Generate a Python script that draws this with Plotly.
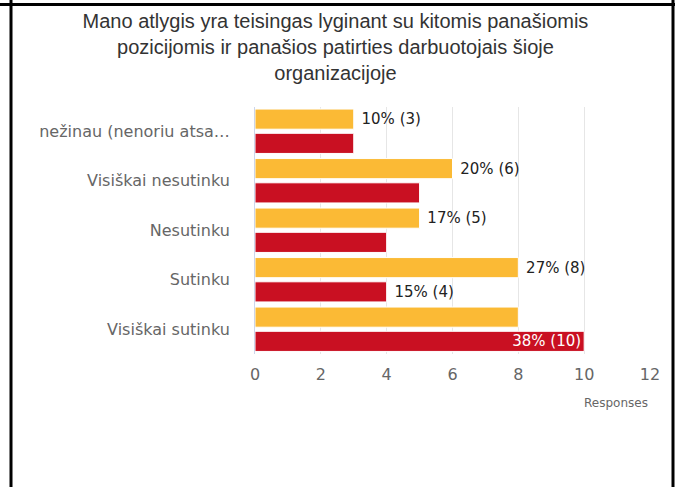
import plotly.graph_objects as go

categories = ["nežinau (nenoriu atsa…", "Visiškai nesutinku", "Nesutinku", "Sutinku", "Visiškai sutinku"]
orange_values = [3, 6, 5, 8, 8]
red_values = [3, 5, 4, 4, 10]
orange_labels = ["10% (3)", "20% (6)", "17% (5)", "27% (8)", ""]
red_labels = ["", "", "", "15% (4)", "38% (10)"]
x_ticks = [0, 2, 4, 6, 8, 10, 12]

title_text = "Mano atlygis yra teisingas lyginant su kitomis panašiomis<br>pozicijomis ir panašios patirties darbuotojais šioje<br>organizacijoje"

W, H = 675, 487
px_l, px_r, px_t, px_b = 255, 650, 106.5, 354

ORANGE = "#FBBA35"
RED = "#C91022"
FONT = "DejaVu Sans"
OUT_TPL = "\u00a0%{text}"

fig = go.Figure()
fig.add_trace(go.Bar(
    y=categories, x=orange_values, orientation="h",
    marker=dict(color=ORANGE, line=dict(color="white", width=1)),
    text=orange_labels, texttemplate=OUT_TPL, textposition="outside", constraintext="none",
    textfont=dict(family=FONT, size=15, color="#222"),
    cliponaxis=False, showlegend=False, hoverinfo="skip",
))
red_pos = ["inside" if v == max(red_values) else "outside" for v in red_values]
red_colors = ["white" if p == "inside" else "#222" for p in red_pos]
red_tpl = ["%{text}" if p == "inside" else OUT_TPL for p in red_pos]
fig.add_trace(go.Bar(
    y=categories, x=red_values, orientation="h",
    marker=dict(color=RED, line=dict(color="white", width=1)),
    text=red_labels, texttemplate=red_tpl, textposition=red_pos, insidetextanchor="end",
    constraintext="none",
    textfont=dict(family=FONT, size=15, color=red_colors),
    cliponaxis=False, showlegend=False, hoverinfo="skip",
))

fig.update_layout(
    width=W, height=H,
    margin=dict(l=0, r=0, t=0, b=0),
    paper_bgcolor="white", plot_bgcolor="white",
    barmode="group", bargap=0.02, bargroupgap=0.17,
    title=dict(text=title_text, x=0.497, xanchor="center", y=1 - 28 / H, yanchor="top",
               font=dict(family="Liberation Sans", size=20, color="#333")),
    xaxis=dict(domain=[px_l / W, px_r / W], range=[0, 12], tickvals=x_ticks,
               showgrid=True, gridcolor="#e6e6e6", gridwidth=1, zeroline=False,
               showline=False, ticks="", automargin=False, ticklabelstandoff=9,
               tickfont=dict(family=FONT, size=16, color="#666")),
    yaxis=dict(domain=[(H - px_b) / H, (H - px_t) / H], autorange="reversed",
               showgrid=False, zeroline=False, showline=True, linecolor="#ccd6eb", linewidth=1,
               ticks="", automargin=False, ticklabelstandoff=21,
               tickfont=dict(family=FONT, size=16, color="#666")),
    annotations=[dict(text="Responses", xref="paper", yref="paper", x=px_r / W, y=(H - 403) / H,
                      xanchor="right", yanchor="middle", showarrow=False,
                      font=dict(family=FONT, size=12, color="#666"))],
)

# frame lines
def lp(px, py):
    return px / W, 1 - py / H

frame = [((0, 4.5), (W, 4.5)), ((11, 0), (11, H)), ((673, 0), (673, H))]
for (x0, y0), (x1, y1) in frame:
    a = lp(x0, y0); b = lp(x1, y1)
    fig.add_shape(type="line", xref="paper", yref="paper", x0=a[0], y0=a[1], x1=b[0], y1=b[1],
                  line=dict(color="black", width=3))

fig.write_html("out.html", config={"displayModeBar": False},
               post_script="document.body.style.margin='0px';document.body.style.overflow='hidden';")
